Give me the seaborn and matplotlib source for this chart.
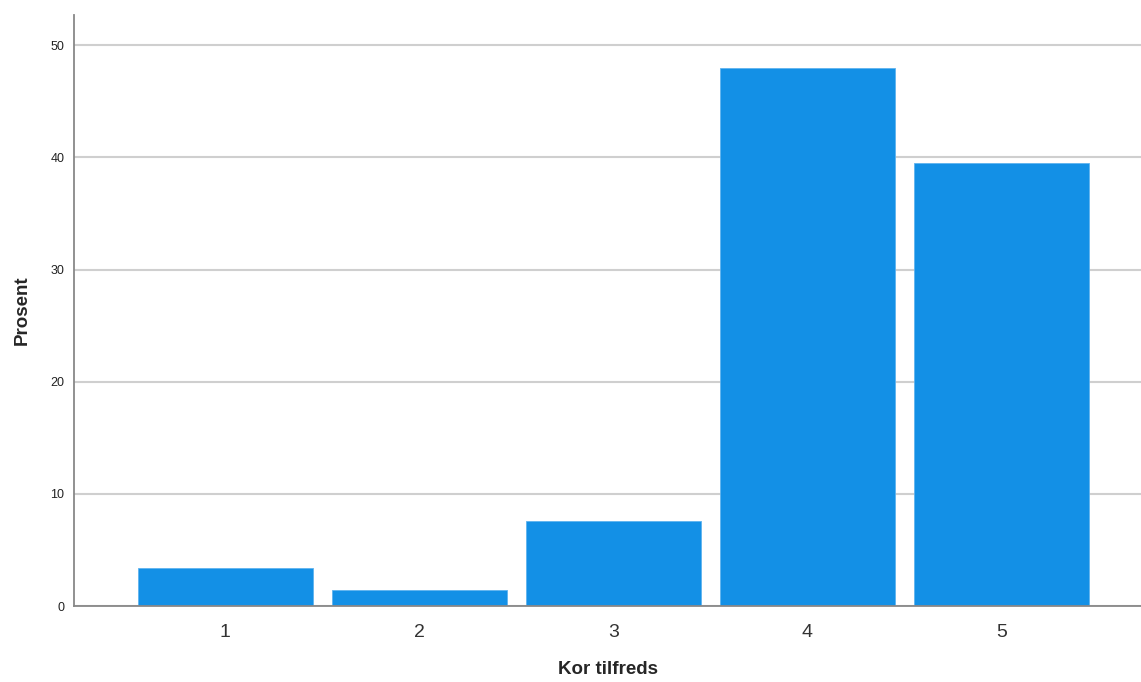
import pandas as pd
import matplotlib
matplotlib.use('Agg')
import matplotlib.pyplot as plt
import seaborn as sns

# Kor tilfreds - percent distribution
categories = ['1', '2', '3', '4', '5']
prosent = [3.4, 1.4, 7.6, 48.0, 39.5]

df = pd.DataFrame({'Kor tilfreds': categories, 'Prosent': prosent})

sns.set_style('white')
plt.rcParams['font.family'] = ['Liberation Sans', 'DejaVu Sans']

fig = plt.figure(figsize=(11.41, 6.82), dpi=100)
ax = fig.add_axes([0.0649, 0.1114, 0.9351, 0.8666])

ax.yaxis.grid(True, color='#cfcfcf', linewidth=1.5)
ax.set_axisbelow(True)

sns.barplot(data=df, x='Kor tilfreds', y='Prosent', color='#1390e6',
            saturation=1, width=0.9, edgecolor='#5fb3ef', linewidth=0.6, ax=ax)

ax.set_xlim(-0.78, 4.72)
ax.set_ylim(0, 52.7)
ax.set_yticks([0, 10, 20, 30, 40, 50])

for s in ['top', 'right']:
    ax.spines[s].set_visible(False)
for s in ['left', 'bottom']:
    ax.spines[s].set_color('#888888')
    ax.spines[s].set_linewidth(1.3)

ax.tick_params(axis='y', labelsize=9, length=0, pad=7, colors='#222222')
ax.tick_params(axis='x', labelsize=14, length=0, pad=13, colors='#333333')

ax.set_xlabel('Kor tilfreds', fontsize=13.5, fontweight='bold', labelpad=14)
ax.set_ylabel('Prosent', fontsize=13.5, fontweight='bold', labelpad=14)

fig.savefig('out.png', dpi=100)
